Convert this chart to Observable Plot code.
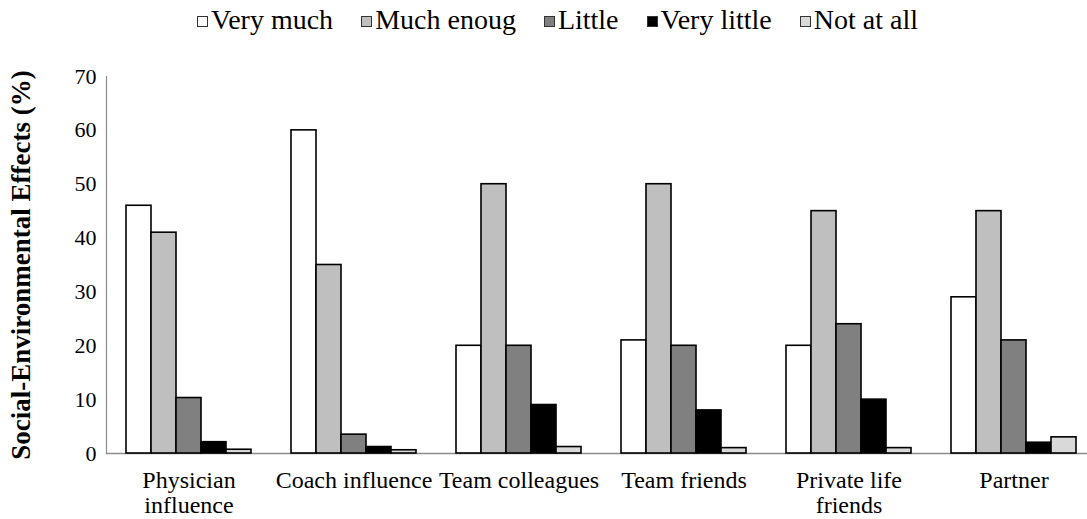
<!DOCTYPE html>
<html>
<head>
<meta charset="utf-8">
<script src="https://cdn.jsdelivr.net/npm/d3@7"></script>
<script src="https://cdn.jsdelivr.net/npm/@observablehq/plot@0.6"></script>
<style>
  body { margin: 0; background: #fff; font-family: "Times New Roman", "Liberation Serif", Tinos, serif; }
  #legend { height: 38px; display: flex; justify-content: center; align-items: center; font-size: 28px; line-height: 1.1; color: #000; padding-left: 28px; padding-top: 3px; box-sizing: border-box; }
  .item { display: flex; align-items: center; margin: 0 14px; }
  .sw { box-sizing: border-box; width: 11px; height: 11px; border: 1.4px solid #333; margin-right: 3px; margin-top: 2px; }
</style>
</head>
<body>
<div id="legend"></div>
<div id="chart"></div>
<script>
const categories = ["Physician influence", "Coach influence", "Team colleagues", "Team friends", "Private life friends", "Partner"];
const tickLabels = ["Physician\ninfluence", "Coach influence", "Team colleagues", "Team friends", "Private life\nfriends", "Partner"];
const levels = ["Very much", "Much enoug", "Little", "Very little", "Not at all"];
const veryMuch   = [46, 60, 20, 21, 20, 29];
const muchEnough = [41, 35, 50, 50, 45, 45];
const little     = [10.3, 3.5, 20, 20, 24, 21];
const veryLittle = [2.1, 1.2, 9, 8, 10, 2];
const notAtAll   = [0.7, 0.6, 1.2, 1, 1, 3];
const colors = ["#ffffff", "#bfbfbf", "#808080", "#000000", "#d9d9d9"];
const yTicks = [0, 10, 20, 30, 40, 50, 60, 70];
const yTitle = "Social-Environmental Effects (%)";

const series = [veryMuch, muchEnough, little, veryLittle, notAtAll];
const data = [];
categories.forEach((c, i) => levels.forEach((l, j) => data.push({category: c, level: l, value: series[j][i]})));

// legend
const legend = document.getElementById("legend");
levels.forEach((l, j) => {
  const it = document.createElement("div");
  it.className = "item";
  const sw = document.createElement("div");
  sw.className = "sw";
  sw.style.background = colors[j];
  it.appendChild(sw);
  const t = document.createElement("span");
  t.textContent = l;
  it.appendChild(t);
  legend.appendChild(it);
});

const labelMap = new Map(categories.map((c, i) => [c, tickLabels[i]]));

const chart = Plot.plot({
  width: 1087,
  height: 481,
  marginTop: 38,
  marginBottom: 66,
  marginLeft: 103,
  marginRight: 0,
  style: {fontFamily: "'Times New Roman', 'Liberation Serif', Tinos, serif", color: "#000", background: "#fff"},
  fx: {domain: categories, range: [103, 1098], padding: 0},
  x: {domain: levels, paddingInner: 0, paddingOuter: 0.725, axis: null},
  y: {domain: [0, 70]},
  color: {domain: levels, range: colors},
  marks: [
    Plot.ruleY([0], {stroke: "#8c8c8c", strokeWidth: 1.5}),
    Plot.frame({anchor: "left", stroke: "#8c8c8c", strokeWidth: 1.2, facetAnchor: "left"}),
    Plot.barY(data, {fx: "category", x: "level", y: "value", fill: "level", stroke: "#000", strokeWidth: 1.6, inset: 0}),
    Plot.axisY({ticks: yTicks, tickSize: 0, tickPadding: 10, fontSize: 22, label: null}),
    Plot.axisFx({anchor: "bottom", tickSize: 0, tickPadding: 16, fontSize: 24, lineHeight: 1.06, label: null, tickFormat: d => labelMap.get(d)}),
    Plot.text([yTitle], {frameAnchor: "left", textAnchor: "middle", rotate: -90, dx: -85, fontSize: 27, fontWeight: "bold", facetAnchor: "left"})
  ]
});
document.getElementById("chart").appendChild(chart);
</script>
</body>
</html>
